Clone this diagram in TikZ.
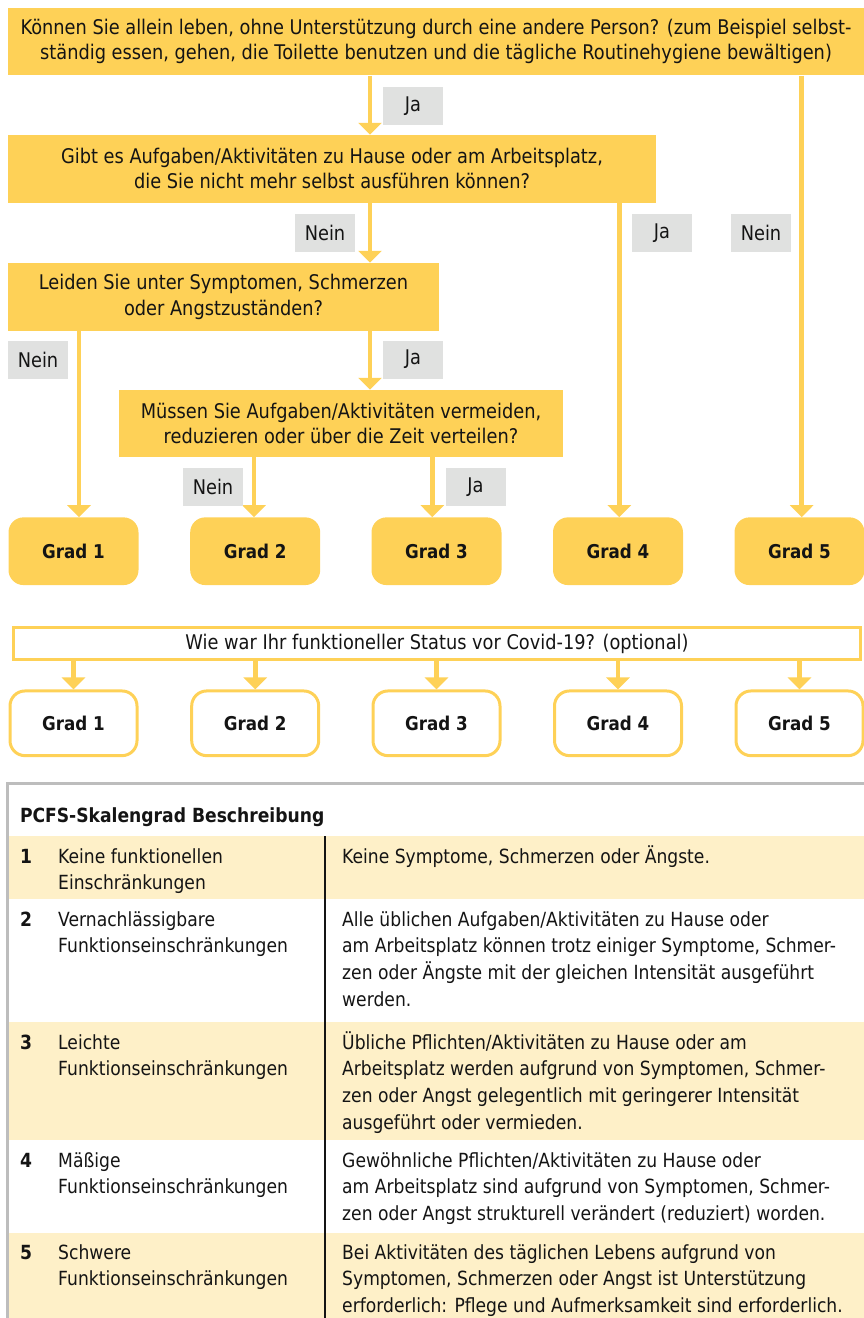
\documentclass[tikz,border=0pt]{standalone}
\usepackage{fontspec}
\setmainfont{DejaVu Sans}[FakeStretch=0.88]
\usetikzlibrary{arrows.meta}
\definecolor{gold}{HTML}{FED157}
\definecolor{labelgrey}{HTML}{E0E1E0}
\definecolor{cream}{HTML}{FEF0C8}
\definecolor{framegrey}{HTML}{BDBDBD}
\definecolor{ink}{HTML}{141414}
\begin{document}
\begin{tikzpicture}[x=1pt,y=-1pt,
    every node/.style={font=\fontsize{20.2}{25.3}\selectfont, text=ink},
    question/.style={fill=gold, align=center, inner sep=0pt},
    grade/.style={rounded corners=15pt, minimum width=130pt, minimum height=67.7pt,
      inner sep=0pt, font=\fontsize{19}{24}\selectfont\bfseries},
    filledgrade/.style={grade, fill=gold},
    opengrade/.style={grade, draw=gold, line width=3pt, minimum width=127pt, minimum height=64.7pt},
    answer/.style={fill=labelgrey, minimum width=60pt, minimum height=38pt, inner sep=0pt},
    flow/.style={draw=gold, line width=4.6pt, -{Triangle[width=23pt,length=12pt]}},
    cell/.style={anchor=base west, align=left, inner sep=0pt, font=\fontsize{19.5}{26.7}\selectfont},
    num/.style={cell, font=\fontsize{19.5}{26.7}\selectfont\bfseries}]
  \useasboundingbox (0,0) rectangle (864,1318);

  \node[question, minimum width=856pt, minimum height=67.3pt] (q1) at (436,41.7)
    {Können Sie allein leben, ohne Unterstützung durch eine andere Person? (zum Beispiel selbst-\\
     ständig essen, gehen, die Toilette benutzen und die tägliche Routinehygiene bewältigen)};
  \node[question, minimum width=648pt, minimum height=67.7pt] (q2) at (332,168.8)
    {Gibt es Aufgaben/Aktivitäten zu Hause oder am Arbeitsplatz,\\
     die Sie nicht mehr selbst ausführen können?};
  \node[question, minimum width=431pt, minimum height=67.7pt] (q3) at (223.5,296.8)
    {Leiden Sie unter Symptomen, Schmerzen\\oder Angstzuständen?};
  \node[question, minimum width=444pt, minimum height=67.3pt] (q4) at (341,423.6)
    {Müssen Sie Aufgaben/Aktivitäten vermeiden,\\reduzieren oder über die Zeit verteilen?};

  \foreach \i/\x in {1/73.5,2/255.2,3/436.5,4/618,5/799.5} {
    \node[filledgrade] (g\i) at (\x,551.2) {Grad \i};
    \node[opengrade] (o\i) at (\x,723.3) {Grad \i};
  }
  \node[draw=gold, line width=3pt, minimum width=847pt, minimum height=32pt, inner sep=0pt]
    (cov) at (437,643.5) {Wie war Ihr funktioneller Status vor Covid-19? (optional)};

  \coordinate (ca) at (370,0);
  \coordinate (c1) at (79,0);
  \coordinate (c2) at (254,0);
  \coordinate (c3) at (432.3,0);
  \coordinate (c4) at (619.3,0);
  \coordinate (c5) at (801.7,0);

  \draw[flow] (q1.south -| ca) -- (q2.north -| ca);
  \draw[flow] (q2.south -| ca) -- (q3.north -| ca);
  \draw[flow] (q3.south -| ca) -- (q4.north -| ca);
  \draw[flow] (q3.south -| c1) -- (g1.north -| c1);
  \draw[flow] (q4.south -| c2) -- (g2.north -| c2);
  \draw[flow] (q4.south -| c3) -- (g3.north -| c3);
  \draw[flow] (q2.south -| c4) -- (g4.north -| c4);
  \draw[flow] (q1.south -| c5) -- (g5.north -| c5);
  \foreach \i in {1,...,5}
    \draw[flow] (cov.south -| o\i) -- (o\i.north);

  \node[answer] (a1) at (413,106) {Ja};
  \node[answer] (a2) at (325,233) {Nein};
  \node[answer] (a3) at (662,233) {Ja};
  \node[answer] (a4) at (761,233) {Nein};
  \node[answer] (a5) at (38,359.5) {Nein};
  \node[answer] (a6) at (413,359.5) {Ja};
  \node[answer] (a7) at (213,487) {Nein};
  \node[answer] (a8) at (475.5,487) {Ja};

  \fill[cream] (9,836) rectangle (864,899);
  \fill[cream] (9,1022) rectangle (864,1140);
  \fill[cream] (9,1233) rectangle (864,1318);
  \draw[framegrey, line width=3.5pt] (7.5,1325) -- (7.5,783.3) -- (870,783.3);
  \draw[ink, line width=1.3pt] (325,836) -- (325,1318);

  \node[num] (hdr) at (19.8,822) {PCFS-Skalengrad Beschreibung};

  \node[num] (n1) at (19.8,863) {1};
  \node[cell] (t1) at (58,889.7) {Keine funktionellen\\Einschränkungen};
  \node[cell] (d1) at (342,863) {Keine Symptome, Schmerzen oder Ängste.};

  \node[num] (n2) at (19.8,926) {2};
  \node[cell] (t2) at (58,952.7) {Vernachlässigbare\\Funktionseinschränkungen};
  \node[cell] (d2) at (342,1006.1) {Alle üblichen Aufgaben/Aktivitäten zu Hause oder\\
    am Arbeitsplatz können trotz einiger Symptome, Schmer-\\
    zen oder Ängste mit der gleichen Intensität ausgeführt\\werden.};

  \node[num] (n3) at (19.8,1049) {3};
  \node[cell] (t3) at (58,1075.7) {Leichte\\Funktionseinschränkungen};
  \node[cell] (d3) at (342,1129.1) {Übliche Pflichten/Aktivitäten zu Hause oder am\\
    Arbeitsplatz werden aufgrund von Symptomen, Schmer-\\
    zen oder Angst gelegentlich mit geringerer Intensität\\ausgeführt oder vermieden.};

  \node[num] (n4) at (19.8,1167) {4};
  \node[cell] (t4) at (58,1193.7) {Mäßige\\Funktionseinschränkungen};
  \node[cell] (d4) at (342,1220.4) {Gewöhnliche Pflichten/Aktivitäten zu Hause oder\\
    am Arbeitsplatz sind aufgrund von Symptomen, Schmer-\\
    zen oder Angst strukturell verändert (reduziert) worden.};

  \node[num] (n5) at (19.8,1259) {5};
  \node[cell] (t5) at (58,1285.7) {Schwere\\Funktionseinschränkungen};
  \node[cell] (d5) at (342,1312.4) {Bei Aktivitäten des täglichen Lebens aufgrund von\\
    Symptomen, Schmerzen oder Angst ist Unterstützung\\
    erforderlich: Pflege und Aufmerksamkeit sind erforderlich.};
\end{tikzpicture}
\end{document}
